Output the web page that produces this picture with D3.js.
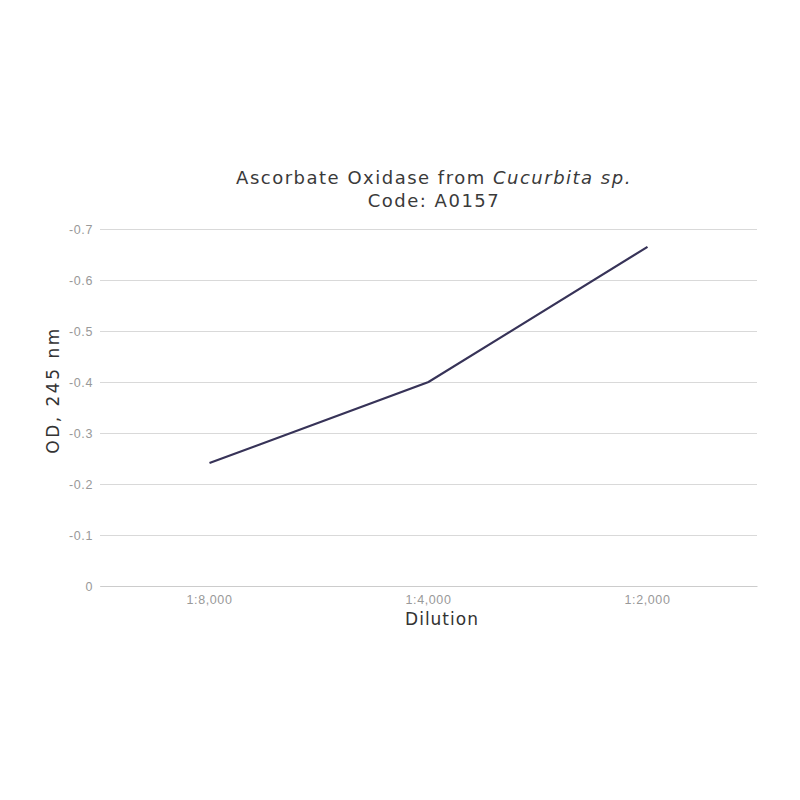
<!DOCTYPE html>
<html>
<head>
<meta charset="utf-8">
<script src="https://cdn.jsdelivr.net/npm/d3@7"></script>
<style>
  body { margin: 0; background: #fff; }
  svg { font-family: "DejaVu Sans", Verdana, sans-serif; }
  .grid line { stroke: #d9d9d9; stroke-width: 1; }
  .tick text { fill: #999999; font-size: 12.5px; letter-spacing: 0.6px; }
</style>
</head>
<body>
<div id="chart"></div>
<script>
// データ
const dilutions = ['1:8,000', '1:4,000', '1:2,000'];
const odValues = [0.241, 0.40, 0.665];
const yTicks = [0, 0.1, 0.2, 0.3, 0.4, 0.5, 0.6, 0.7];
const yTickLabels = ['0', '-0.1', '-0.2', '-0.3', '-0.4', '-0.5', '-0.6', '-0.7'];

const width = 800, height = 800;
const margin = { left: 100, right: 43, top: 229, bottom: 214 };

const svg = d3.select('#chart').append('svg')
    .attr('width', width)
    .attr('height', height);

const x = d3.scaleBand()
    .domain(dilutions)
    .range([margin.left, width - margin.right]);

const y = d3.scaleLinear()
    .domain([0, 0.7])
    .range([height - margin.bottom, margin.top]);

// グリッド線
const yAxis = d3.axisLeft(y)
    .tickValues(yTicks)
    .tickSize(-(width - margin.left - margin.right))
    .tickPadding(7)
    .tickFormat((d, i) => yTickLabels[i]);

svg.append('g')
    .attr('class', 'grid')
    .attr('transform', `translate(${margin.left},0)`)
    .call(yAxis)
    .call(g => g.select('.domain').remove());

// x軸
svg.append('g')
    .attr('transform', `translate(0,${height - margin.bottom})`)
    .call(d3.axisBottom(x).tickSize(0).tickPadding(9))
    .call(g => g.select('.domain').attr('stroke', '#cccccc'));

// 折れ線
const line = d3.line()
    .x((d, i) => x(dilutions[i]) + x.bandwidth() / 2)
    .y(d => y(d));

svg.append('path')
    .datum(odValues)
    .attr('fill', 'none')
    .attr('stroke', '#373358')
    .attr('stroke-width', 2.2)
    .attr('d', line);

// タイトル
const title = svg.append('text')
    .attr('x', 434)
    .attr('y', 184)
    .attr('text-anchor', 'middle')
    .attr('font-size', 18)
    .attr('letter-spacing', 1.5)
    .attr('fill', '#3a3a3a');
title.append('tspan').text('Ascorbate Oxidase from ');
title.append('tspan').attr('font-style', 'italic').text('Cucurbita sp.');

svg.append('text')
    .attr('x', 434)
    .attr('y', 207)
    .attr('text-anchor', 'middle')
    .attr('font-size', 18)
    .attr('letter-spacing', 1.5)
    .attr('fill', '#3a3a3a')
    .text('Code: A0157');

// 軸ラベル
svg.append('text')
    .attr('x', 442)
    .attr('y', 625)
    .attr('text-anchor', 'middle')
    .attr('font-size', 17)
    .attr('letter-spacing', 1)
    .attr('fill', '#333')
    .text('Dilution');

svg.append('text')
    .attr('transform', 'translate(59,390) rotate(-90)')
    .attr('text-anchor', 'middle')
    .attr('font-size', 17)
    .attr('letter-spacing', 2.5)
    .attr('fill', '#333')
    .text('OD, 245 nm');
</script>
</body>
</html>
